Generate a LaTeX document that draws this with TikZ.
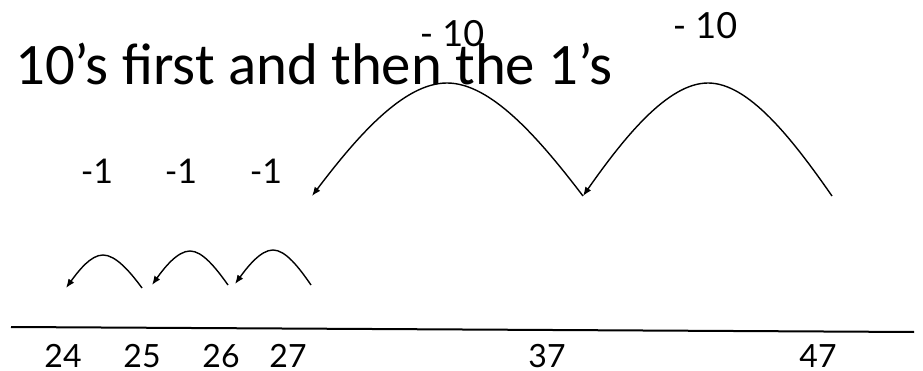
\documentclass[tikz,border=0pt]{standalone}
\usepackage{fontspec}
\setmainfont{Carlito}
\newfontfamily\numfont{Lato}
\usetikzlibrary{arrows.meta}
\begin{document}
\begin{tikzpicture}[x=1pt,y=-1pt,
  jump/.style={line width=1.4pt,-{Latex[length=9pt,width=7pt]}},
  numlbl/.style={font=\numfont\fontsize{32}{32}\selectfont,inner sep=0pt,anchor=base},
  onelbl/.style={font=\numfont\fontsize{34}{34}\selectfont,inner sep=0pt},
  tenlbl/.style={font=\numfont\fontsize{36}{36}\selectfont,inner sep=0pt}]
\useasboundingbox (0,0) rectangle (923,371);
% title
\node[anchor=base west,inner sep=0pt,font=\fontsize{58.8}{58.8}\selectfont] (title) at (15,85) {10’s first and then the 1’s};
% number line
\coordinate (L) at (11,327);
\coordinate (R) at (914,332);
\draw[line width=2pt] (L) -- (R);
\node[numlbl] (n24) at (63,367) {24};
\node[numlbl] (n25) at (142,367) {25};
\node[numlbl] (n26) at (221,367) {26};
\node[numlbl] (n27) at (288,367) {27};
\node[numlbl] (n37) at (547,367) {37};
\node[numlbl] (n47) at (818,367) {47};
% big jumps
\coordinate (b0) at (832,196);
\coordinate (p1) at (708,83);
\coordinate (b1) at (583,196);
\coordinate (p2) at (447,83);
\coordinate (b2) at (312,196);
\draw[jump] (b0) .. controls (791.6,138) and (748.4,83) .. (p1)
               .. controls (667.6,83) and (623.7,138) .. (b1);
\draw[jump] (b1) .. controls (538.7,138) and (491,83) .. (p2)
               .. controls (403,83) and (356,138) .. (b2);
\node[tenlbl] (l1) at (452,34) {- 10};
\node[tenlbl] (l2) at (705,26) {- 10};
% small jumps
\coordinate (s0) at (311,285);
\coordinate (q1) at (273,250);
\coordinate (s1) at (235,284);
\coordinate (s2) at (228,285);
\coordinate (q2) at (190,251);
\coordinate (s3) at (152,285);
\coordinate (s4) at (142,288);
\coordinate (q3) at (103,255);
\coordinate (s5) at (66,288);
\draw[jump] (s0) .. controls (298.6,267) and (285.4,250) .. (q1)
               .. controls (260.6,250) and (247.4,267) .. (s1);
\draw[jump] (s2) .. controls (215.6,267.6) and (202.4,251) .. (q2)
               .. controls (177.6,251) and (164.4,267.6) .. (s3);
\draw[jump] (s4) .. controls (129.6,271) and (115.4,255) .. (q3)
               .. controls (90.6,255) and (78.4,271) .. (s5);
\node[onelbl] (m1) at (97,171) {-1};
\node[onelbl] (m2) at (181,171) {-1};
\node[onelbl] (m3) at (266,171) {-1};
\end{tikzpicture}
\end{document}
